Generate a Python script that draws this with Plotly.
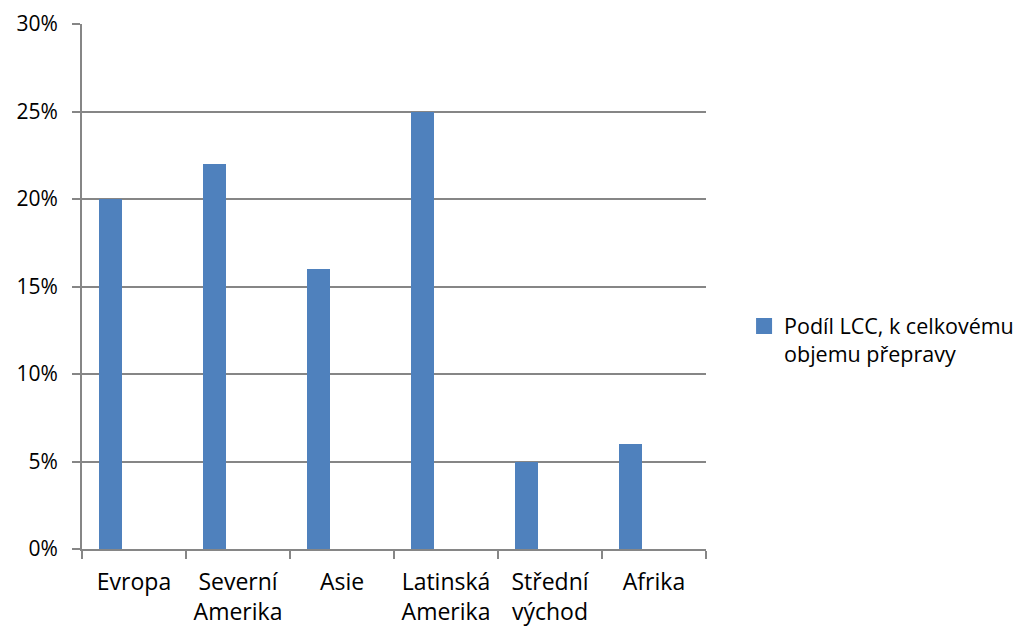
import plotly.graph_objects as go

# Share of low-cost carriers in total passenger volume, by region
regions = ["Evropa", "Severní<br>Amerika", "Asie", "Latinská<br>Amerika", "Střední<br>východ", "Afrika"]
lcc_share = [0.20, 0.22, 0.16, 0.25, 0.05, 0.06]
series_name = "Podíl LCC, k celkovému<br>objemu přepravy"
y_ticks = [0, 0.05, 0.10, 0.15, 0.20, 0.25, 0.30]

BAR_COLOR = "#4F81BD"
GRID = "#868686"
FONT = "Open Sans"

fig = go.Figure()
fig.add_trace(go.Bar(
    x=regions,
    y=lcc_share,
    name=series_name,
    marker=dict(color=BAR_COLOR, line=dict(width=0)),
    width=0.222,
    offset=-0.333,
    showlegend=False,
))
# legend entry with a larger square swatch
fig.add_trace(go.Scatter(
    x=[regions[0]], y=[None],
    mode="markers",
    name=series_name,
    marker=dict(symbol="square", size=16, color=BAR_COLOR),
    showlegend=True,
))

fig.update_layout(
    width=1034, height=627,
    margin=dict(l=82, r=328, t=24, b=78, autoexpand=False),
    paper_bgcolor="white", plot_bgcolor="white",
    font=dict(family=FONT, size=21, color="black"),
    legend=dict(
        x=1.061, xanchor="left",
        y=0.398, yanchor="middle",
        valign="top",
        font=dict(family=FONT, size=21.5, color="black"),
        itemwidth=30,
    ),
    bargap=0,
)
fig.update_xaxes(
    type="category",
    automargin=False,
    showline=True, linecolor=GRID, linewidth=2,
    ticks="outside", tickson="boundaries", ticklen=8, tickcolor=GRID, tickwidth=2,
    showgrid=False,
    ticklabelstandoff=11,
    tickfont=dict(family=FONT, size=23, color="black"),
)
fig.update_yaxes(
    range=[0, 0.30],
    automargin=False,
    tickvals=y_ticks,
    tickformat=".0%",
    showline=True, linecolor=GRID, linewidth=2,
    ticks="outside", ticklen=8, tickcolor=GRID, tickwidth=2,
    showgrid=True, gridcolor=GRID, gridwidth=2,
    zeroline=False,
    ticklabelstandoff=10,
    tickfont=dict(family=FONT, size=21, color="black"),
)

fig.write_html("out.html")
